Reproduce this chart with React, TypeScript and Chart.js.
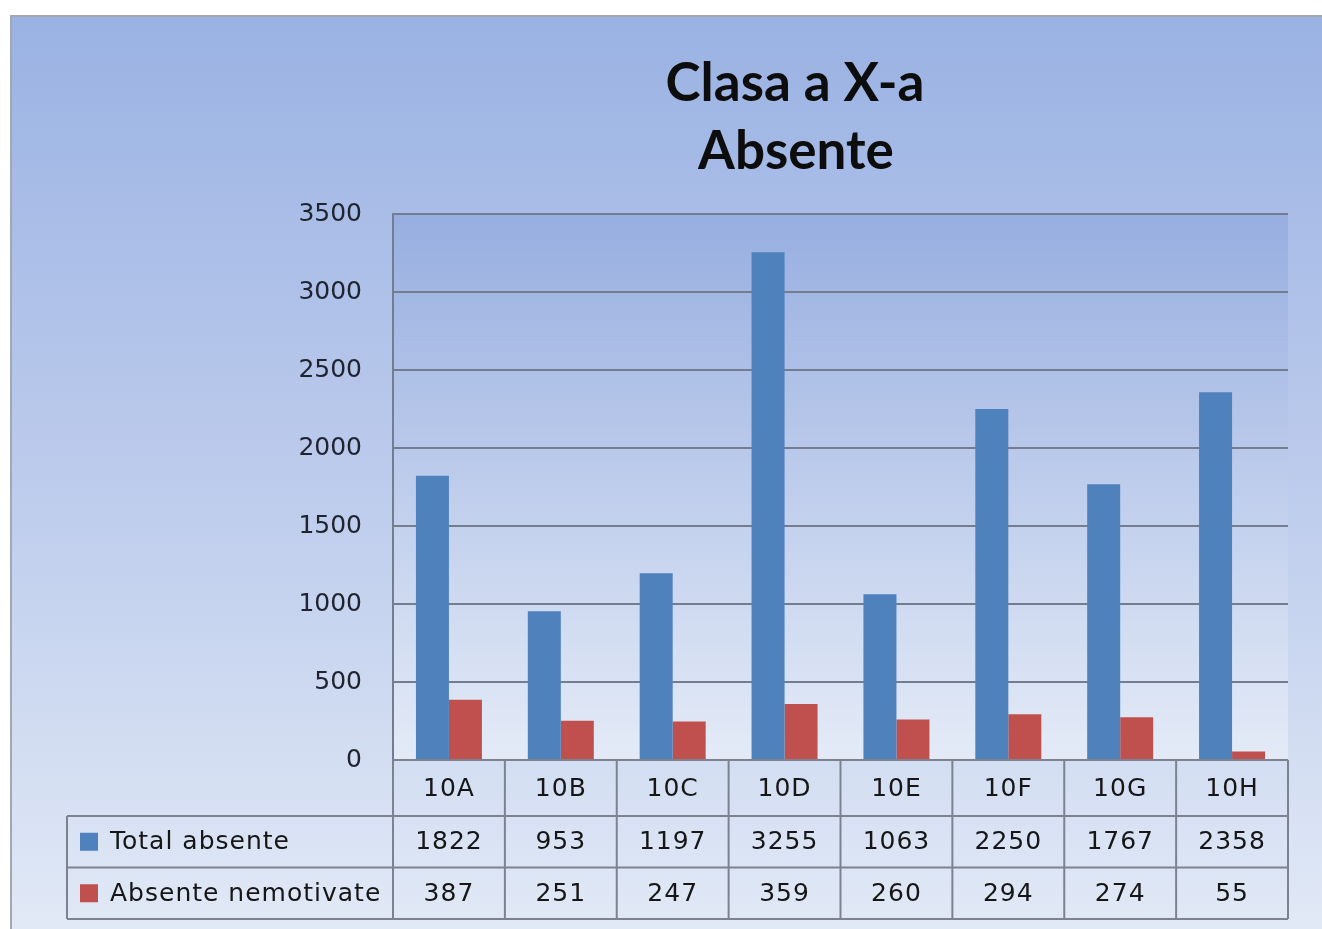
import React, { useEffect, useRef } from "react";
import { Chart, registerables } from "chart.js";

Chart.register(...registerables);

const categories = ["10A", "10B", "10C", "10D", "10E", "10F", "10G", "10H"];
const totalAbsente = [1822, 953, 1197, 3255, 1063, 2250, 1767, 2358];
const absenteNemotivate = [387, 251, 247, 359, 260, 294, 274, 55];
const seriesNames = ["Total absente", "Absente nemotivate"];
const seriesColors = ["#4f81bd", "#c0504d"];
const titleLines = ["Clasa a X-a", "Absente"];
const yMin = 0;
const yMax = 3500;
const yStep = 500;

const W = 1322;
const H = 929;

const backgroundPlugin = {
  id: "panelBackground",
  beforeDraw(chart: any) {
    const { ctx, chartArea } = chart;
    ctx.save();
    ctx.fillStyle = "#ffffff";
    ctx.fillRect(0, 0, W, H);
    const px = 11;
    const py = 16;
    const g = ctx.createLinearGradient(0, py, 0, H);
    g.addColorStop(0, "#9ab2e3");
    g.addColorStop(0.5, "#bccbec");
    g.addColorStop(1, "#e1e9f6");
    ctx.fillStyle = g;
    ctx.fillRect(px, py, W - px, H - py);
    ctx.strokeStyle = "#a3a7b0";
    ctx.lineWidth = 2;
    ctx.beginPath();
    ctx.moveTo(px, H);
    ctx.lineTo(px, py);
    ctx.lineTo(W, py);
    ctx.stroke();
    const pg = ctx.createLinearGradient(0, chartArea.top, 0, chartArea.bottom);
    pg.addColorStop(0, "#97aee0");
    pg.addColorStop(0.5, "#bfcdec");
    pg.addColorStop(1, "#e4ebf7");
    ctx.fillStyle = pg;
    ctx.fillRect(chartArea.left, chartArea.top, chartArea.right - chartArea.left, chartArea.bottom - chartArea.top);
    ctx.restore();
  },
};

const titlePlugin = {
  id: "twoLineTitle",
  afterDraw(chart: any) {
    const { ctx } = chart;
    ctx.save();
    ctx.fillStyle = "#0d0d0d";
    ctx.font = "bold 53px Lato";
    ctx.textAlign = "center";
    ctx.textBaseline = "middle";
    ctx.fillText(titleLines[0], 795, 84);
    ctx.fillText(titleLines[1], 796, 152);
    ctx.restore();
  },
};

const tablePlugin = {
  id: "dataTable",
  afterDraw(chart: any) {
    const { ctx, chartArea } = chart;
    const xs = chart.scales.x;
    const n = categories.length;
    const cw = (chartArea.right - chartArea.left) / n;
    const top = chartArea.bottom;
    const headH = 56;
    const rowH = 51.5;
    const r1 = top + headH;
    const r2 = r1 + rowH;
    const r3 = r2 + rowH;
    const tableLeft = 67;
    ctx.save();
    ctx.strokeStyle = "#7d838e";
    ctx.lineWidth = 2;
    ctx.beginPath();
    ctx.moveTo(chartArea.left, top);
    ctx.lineTo(chartArea.right, top);
    [r1, r2, r3].forEach((y) => {
      ctx.moveTo(tableLeft, y);
      ctx.lineTo(chartArea.right, y);
    });
    for (let i = 0; i <= n; i++) {
      const x = chartArea.left + i * cw;
      ctx.moveTo(x, top);
      ctx.lineTo(x, r3);
    }
    ctx.moveTo(tableLeft, r1);
    ctx.lineTo(tableLeft, r3);
    ctx.stroke();

    ctx.fillStyle = "#161616";
    ctx.font = "25px 'DejaVu Sans'";
    (ctx as any).letterSpacing = "1px";
    ctx.textAlign = "center";
    ctx.textBaseline = "middle";
    const rows = [totalAbsente, absenteNemotivate];
    for (let i = 0; i < n; i++) {
      const cx = xs.getPixelForValue(i);
      ctx.fillText(categories[i], cx, top + headH / 2 + 1);
      rows.forEach((vals, r) => {
        const cy = r1 + rowH * r + rowH / 2 + 1;
        ctx.fillText(String(vals[i]), cx, cy);
      });
    }
    ctx.textAlign = "left";
    seriesNames.forEach((name, r) => {
      const cy = r1 + rowH * r + rowH / 2;
      ctx.fillStyle = seriesColors[r];
      ctx.fillRect(80, cy - 9, 18, 18);
      ctx.fillStyle = "#161616";
      ctx.fillText(name, 110, cy + 1);
    });
    ctx.restore();
  },
};

export default function App() {
  const canvasRef = useRef<HTMLCanvasElement | null>(null);

  useEffect(() => {
    if (!canvasRef.current) return;
    const chart = new Chart(canvasRef.current, {
      type: "bar",
      data: {
        labels: categories,
        datasets: [
          {
            label: seriesNames[0],
            data: totalAbsente,
            backgroundColor: seriesColors[0],
            borderWidth: 0,
            categoryPercentage: 0.59,
            barPercentage: 1,
          },
          {
            label: seriesNames[1],
            data: absenteNemotivate,
            backgroundColor: seriesColors[1],
            borderWidth: 0,
            categoryPercentage: 0.59,
            barPercentage: 1,
          },
        ],
      },
      options: {
        responsive: false,
        animation: false,
        layout: { padding: { left: 0, right: 34, top: 214, bottom: 161 } },
        plugins: {
          legend: { display: false },
          tooltip: { enabled: false },
          title: { display: false },
        },
        scales: {
          x: {
            grid: { display: false },
            border: { display: false },
            ticks: { display: false },
          },
          y: {
            min: yMin,
            max: yMax,
            ticks: {
              stepSize: yStep,
              padding: 31,
              color: "#1f2430",
              font: { family: "'DejaVu Sans'", size: 25 },
              callback: (v: any) => String(v),
            },
            grid: { color: "#737d90", lineWidth: 2, drawTicks: false },
            border: { display: true, color: "#737d90", width: 2 },
            afterFit(scale: any) {
              scale.width = 393;
            },
          },
        },
      },
      plugins: [backgroundPlugin, titlePlugin, tablePlugin],
    });
    return () => chart.destroy();
  }, []);

  return (
    <div style={{ position: "absolute", left: 0, top: 0, width: W, height: H }}>
      <canvas ref={canvasRef} width={W} height={H} style={{ display: "block" }} />
    </div>
  );
}
